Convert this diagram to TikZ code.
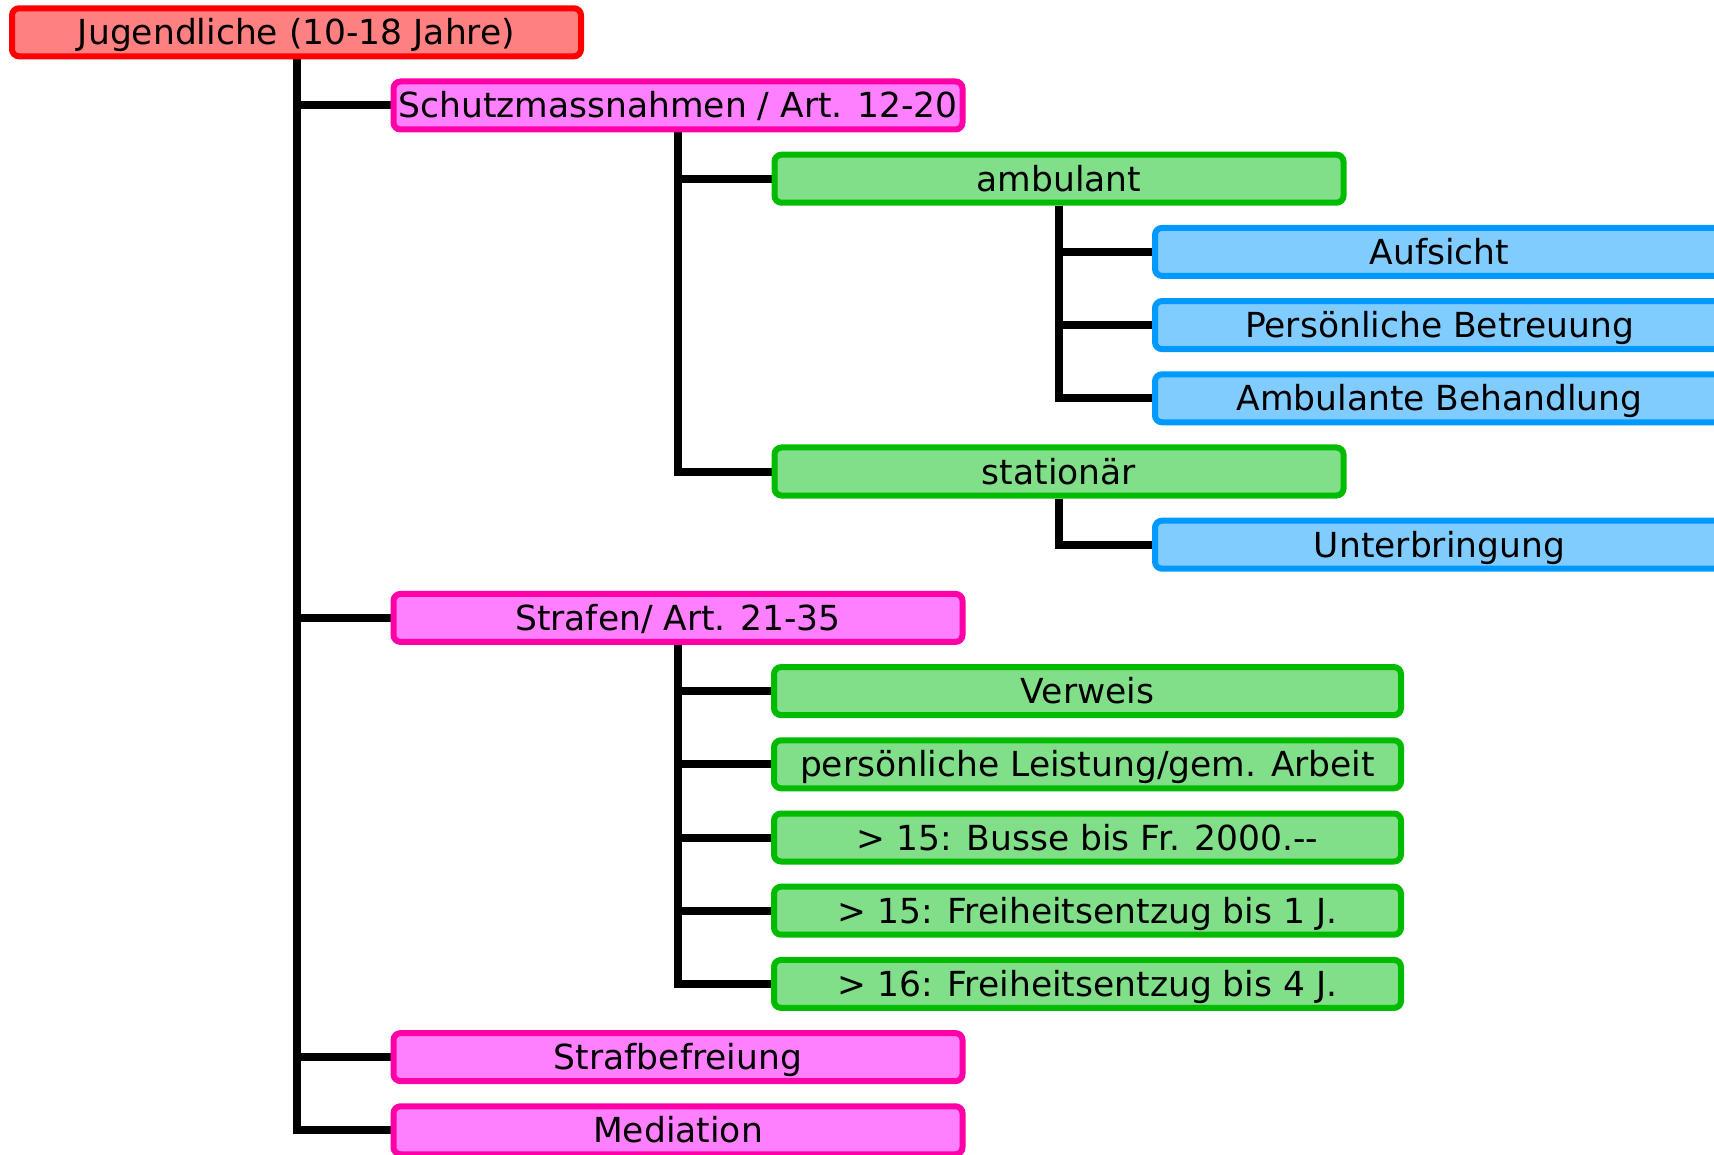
\documentclass[tikz,border=0pt]{standalone}
\usepackage{fontspec}
\setmainfont{DejaVu Sans}
\usetikzlibrary{backgrounds}
\definecolor{redfill}{HTML}{FF8080}
\definecolor{redline}{HTML}{FF0000}
\definecolor{pinkfill}{HTML}{FF80FF}
\definecolor{pinkline}{HTML}{FF00A6}
\definecolor{greenfill}{HTML}{80DF88}
\definecolor{greenline}{HTML}{00BB00}
\definecolor{bluefill}{HTML}{80CCFF}
\definecolor{blueline}{HTML}{0099FF}
\begin{document}
\begin{tikzpicture}[x=1pt,y=-1pt,
  box/.style={rectangle, rounded corners=7pt, line width=6pt,
    minimum height=48pt, minimum width=569pt, inner sep=0pt,
    text height=25pt, text depth=0pt, font=\fontsize{34.5}{40}\selectfont},
  rootbox/.style={box, draw=redline, fill=redfill},
  pinkbox/.style={box, draw=pinkline, fill=pinkfill},
  greenbox/.style={box, draw=greenline, fill=greenfill},
  widegreen/.style={greenbox, minimum width=627pt},
  bluebox/.style={box, draw=blueline, fill=bluefill},
  link/.style={line width=8pt, draw=black}
]
\useasboundingbox (0,0) rectangle (1714,1155);
\clip (0,0) rectangle (1714,1155);
\def\rowsp{73.2}
\node[rootbox]  (root)  at (296.5, 32.3) {Jugendliche (10-18 Jahre)};
\node[pinkbox]  (schutz) at (678, 32.3+1*\rowsp) {Schutzmassnahmen / Art. 12-20};
\node[greenbox] (amb)   at (1059, 32.3+2*\rowsp) {ambulant};
\node[bluebox]  (auf)   at (1439.5, 32.3+3*\rowsp) {Aufsicht};
\node[bluebox]  (pers)  at (1439.5, 32.3+4*\rowsp) {Persönliche Betreuung};
\node[bluebox]  (ambb)  at (1439.5, 32.3+5*\rowsp) {Ambulante Behandlung};
\node[greenbox] (stat)  at (1059, 32.3+6*\rowsp) {stationär};
\node[bluebox]  (unter) at (1439.5, 32.3+7*\rowsp) {Unterbringung};
\node[pinkbox]  (straf) at (678, 32.3+8*\rowsp) {Strafen/ Art. 21-35};
\node[widegreen] (verw) at (1087.5, 32.3+9*\rowsp) {Verweis};
\node[widegreen] (leist) at (1087.5, 32.3+10*\rowsp) {persönliche Leistung/gem. Arbeit};
\node[widegreen] (busse) at (1087.5, 32.3+11*\rowsp) {> 15: Busse bis Fr. 2000.-{}-};
\node[widegreen] (frei1) at (1087.5, 32.3+12*\rowsp) {> 15: Freiheitsentzug bis 1 J.};
\node[widegreen] (frei4) at (1087.5, 32.3+13*\rowsp) {> 16: Freiheitsentzug bis 4 J.};
\node[pinkbox]  (befr)  at (678, 32.3+14*\rowsp) {Strafbefreiung};
\node[pinkbox]  (med)   at (678, 32.3+15*\rowsp) {Mediation};
\begin{scope}[on background layer]
\draw[link] (root.south) |- (schutz.west);
\draw[link] (root.south) |- (straf.west);
\draw[link] (root.south) |- (befr.west);
\draw[link] (root.south) |- (med.west);
\draw[link] (schutz.south) |- (amb.west);
\draw[link] (schutz.south) |- (stat.west);
\draw[link] (amb.south) |- (auf.west);
\draw[link] (amb.south) |- (pers.west);
\draw[link] (amb.south) |- (ambb.west);
\draw[link] (stat.south) |- (unter.west);
\draw[link] (straf.south) |- (verw.west);
\draw[link] (straf.south) |- (leist.west);
\draw[link] (straf.south) |- (busse.west);
\draw[link] (straf.south) |- (frei1.west);
\draw[link] (straf.south) |- (frei4.west);
\end{scope}
\end{tikzpicture}
\end{document}
